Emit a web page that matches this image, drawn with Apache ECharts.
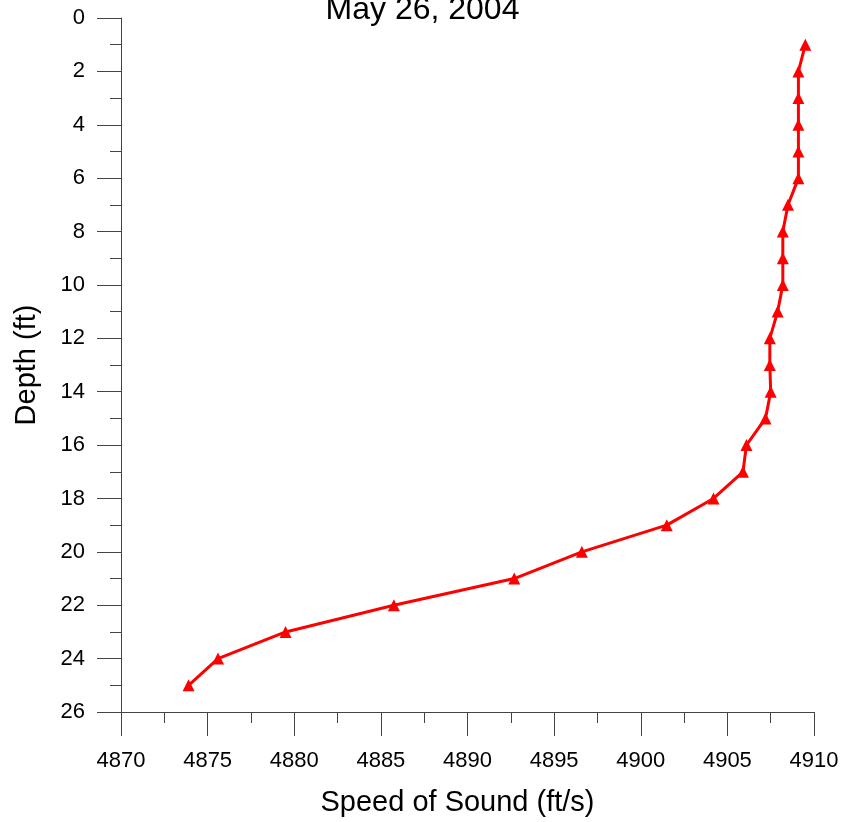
<!DOCTYPE html>
<html>
<head>
<meta charset="utf-8">
<title>Speed of Sound</title>
<script src="https://cdn.jsdelivr.net/npm/echarts@6/dist/echarts.min.js"></script>
<style>
  html, body { margin: 0; padding: 0; background: #fff; }
  #chart { width: 845px; height: 822px; }
</style>
</head>
<body>
<div id="chart"></div>
<script>
// depth (ft) and measured speed of sound (ft/s)
const depths = [1, 2, 3, 4, 5, 6, 7, 8, 9, 10, 11, 12, 13, 14, 15, 16, 17, 18, 19, 20, 21, 22, 23, 24, 25]
const speeds = [4909.5, 4909.1, 4909.1, 4909.1, 4909.1, 4909.1, 4908.5, 4908.2, 4908.2, 4908.2,
  4907.9, 4907.45, 4907.45, 4907.5, 4907.2, 4906.1, 4905.9, 4904.2, 4901.5, 4896.6,
  4892.7, 4885.75, 4879.5, 4875.6, 4873.9]
const titleText = 'May 26, 2004'

const font = 'Liberation Sans, Arial, sans-serif'
const axisColor = '#444'

const chart = echarts.init(document.getElementById('chart'), null, { renderer: 'canvas' })

chart.setOption({
  animation: false,
  backgroundColor: '#fff',
  title: {
    text: titleText,
    left: 'center',
    top: -11,
    textStyle: { fontFamily: font, fontSize: 32, fontWeight: 'normal', color: '#000' }
  },
  grid: { left: 121, right: 31, top: 18, bottom: 110 },
  xAxis: {
    type: 'value',
    min: 4870,
    max: 4910,
    interval: 5,
    name: 'Speed of Sound (ft/s)',
    nameLocation: 'middle',
    nameGap: 76,
    nameTextStyle: { fontFamily: font, fontSize: 29, color: '#000', padding: [0, 20, 0, 0] },
    axisLine: { show: true, onZero: false, lineStyle: { color: axisColor, width: 1 } },
    axisTick: { show: true, length: 24, lineStyle: { color: axisColor } },
    minorTick: { show: true, splitNumber: 2, length: 11, lineStyle: { color: axisColor } },
    axisLabel: {
      margin: 38,
      fontFamily: font,
      fontSize: 22,
      color: '#000',
      formatter: v => String(v) // no thousands separator
    },
    splitLine: { show: false }
  },
  yAxis: {
    type: 'value',
    inverse: true,
    min: 0,
    max: 26,
    interval: 2,
    name: 'Depth (ft)',
    nameLocation: 'middle',
    nameGap: 80,
    nameTextStyle: { fontFamily: font, fontSize: 29, color: '#000' },
    axisLine: { show: true, onZero: false, lineStyle: { color: axisColor, width: 1 } },
    axisTick: { show: true, length: 24, lineStyle: { color: axisColor } },
    minorTick: { show: true, splitNumber: 2, length: 11, lineStyle: { color: axisColor } },
    axisLabel: { margin: 36, fontFamily: font, fontSize: 22, color: '#000' },
    splitLine: { show: false }
  },
  series: [{
    type: 'line',
    data: depths.map((d, i) => [speeds[i], d]),
    symbol: 'triangle',
    symbolSize: 12,
    showAllSymbol: true,
    lineStyle: { color: '#ff0000', width: 3 },
    itemStyle: { color: '#ff0000' }
  }]
})
</script>
</body>
</html>
